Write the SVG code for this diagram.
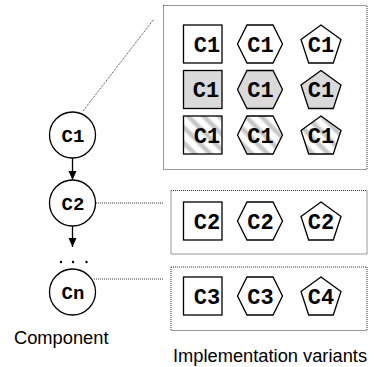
<svg xmlns="http://www.w3.org/2000/svg" width="374" height="367" viewBox="0 0 374 367">
<defs>
<style>
.dot{fill:none;stroke:#333;stroke-width:1;stroke-dasharray:1 1}
.shp{stroke:#000;stroke-width:1.3}
.w{fill:#fff}
.g{fill:#dadada}
.h{fill:url(#hatch)}
.cir{fill:#fff;stroke:#000;stroke-width:1.3}
.mono{font-family:"Liberation Mono","DejaVu Sans Mono",monospace;font-weight:bold;text-anchor:middle;fill:#000}
.t{font-size:22px}
.ct{font-size:19px}
.lab{font-family:"Liberation Sans",Arial,sans-serif;font-size:18.3px;fill:#000}
.arr{stroke:#000;stroke-width:1.3;fill:none}
</style>
<pattern id="hatch" patternUnits="userSpaceOnUse" width="11" height="11" patternTransform="rotate(-45)">
<rect width="11" height="11" fill="#fff"/>
<rect x="0" width="6" height="11" fill="#e4e4e4"/>
<rect x="1.5" width="3" height="11" fill="#c4c4c4"/>
</pattern>
<marker id="ah" markerUnits="userSpaceOnUse" markerWidth="10" markerHeight="12" refX="9" refY="5" orient="auto">
<path d="M0,1 L9,5 L0,9 Z" fill="#000"/>
</marker>
<symbol id="sq" overflow="visible"><rect x="-19.25" y="-19" width="38.5" height="38"/></symbol>
<symbol id="hx" overflow="visible"><polygon points="-22.5,0 -13,-19 13,-19 22.5,0 13,19 -13,19"/></symbol>
<symbol id="pt" overflow="visible"><polygon points="0,-19 20,-4.5 12.3,19 -12.3,19 -20,-4.5"/></symbol>
</defs>

<g id="connectors">
<line class="dot" x1="83" y1="111" x2="154" y2="19"/>
<line class="dot" x1="96" y1="203" x2="163" y2="203"/>
<line class="dot" x1="94" y1="279" x2="163" y2="279"/>
<line class="arr" x1="72.5" y1="158" x2="72.5" y2="180" marker-end="url(#ah)"/>
<line class="arr" x1="72.5" y1="226" x2="72.5" y2="247" marker-end="url(#ah)"/>
</g>

<g id="dots">
<circle cx="61" cy="262" r="1.2"/>
<circle cx="73" cy="262" r="1.2"/>
<circle cx="86.5" cy="262" r="1.2"/>
</g>

<g id="C1">
<circle class="cir" cx="72.5" cy="135" r="23"/>
<text class="mono ct" x="73" y="141.5">C1</text>
</g>
<g id="C2">
<circle class="cir" cx="72.5" cy="203" r="23"/>
<text class="mono ct" x="73" y="209.5">C2</text>
</g>
<g id="Cn">
<circle class="cir" cx="72.5" cy="292" r="23"/>
<text class="mono ct" x="73" y="298.5">Cn</text>
</g>

<g id="variants-C1">
<rect class="dot" x="163.5" y="5.5" width="203.5" height="164"/>
<use href="#sq" x="202.75" y="44" class="shp w"/>
<use href="#hx" x="260" y="44" class="shp w"/>
<use href="#pt" x="321" y="44" class="shp w"/>
<use href="#sq" x="202.75" y="89.5" class="shp g"/>
<use href="#hx" x="260" y="89.5" class="shp g"/>
<use href="#pt" x="321" y="89.5" class="shp g"/>
<use href="#sq" x="202.75" y="135" class="shp h"/>
<use href="#hx" x="260" y="135" class="shp h"/>
<use href="#pt" x="321" y="135" class="shp h"/>
<text class="mono t" x="207" y="51.5">C1</text>
<text class="mono t" x="260.5" y="51.5">C1</text>
<text class="mono t" x="321" y="51.5">C1</text>
<text class="mono t" x="206" y="97">C1</text>
<text class="mono t" x="260.5" y="97">C1</text>
<text class="mono t" x="321" y="97">C1</text>
<text class="mono t" x="207" y="142.5">C1</text>
<text class="mono t" x="260.5" y="142.5">C1</text>
<text class="mono t" x="321" y="142.5">C1</text>
</g>

<g id="variants-C2">
<rect class="dot" x="171" y="190.5" width="196" height="63.5"/>
<use href="#sq" x="202.75" y="221" class="shp w"/>
<use href="#hx" x="260" y="221" class="shp w"/>
<use href="#pt" x="321" y="221" class="shp w"/>
<text class="mono t" x="207" y="228.5">C2</text>
<text class="mono t" x="260.5" y="228.5">C2</text>
<text class="mono t" x="321" y="228.5">C2</text>
</g>

<g id="variants-Cn">
<rect class="dot" x="171" y="267" width="196" height="63.5"/>
<use href="#sq" x="202.75" y="296" class="shp w"/>
<use href="#hx" x="260" y="296" class="shp w"/>
<use href="#pt" x="321" y="296" class="shp w"/>
<text class="mono t" x="207" y="303.5">C3</text>
<text class="mono t" x="260.5" y="303.5">C3</text>
<text class="mono t" x="321" y="303.5">C4</text>
</g>

<text class="lab" x="14" y="344">Component</text>
<text class="lab" x="173" y="362">Implementation variants</text>
</svg>
